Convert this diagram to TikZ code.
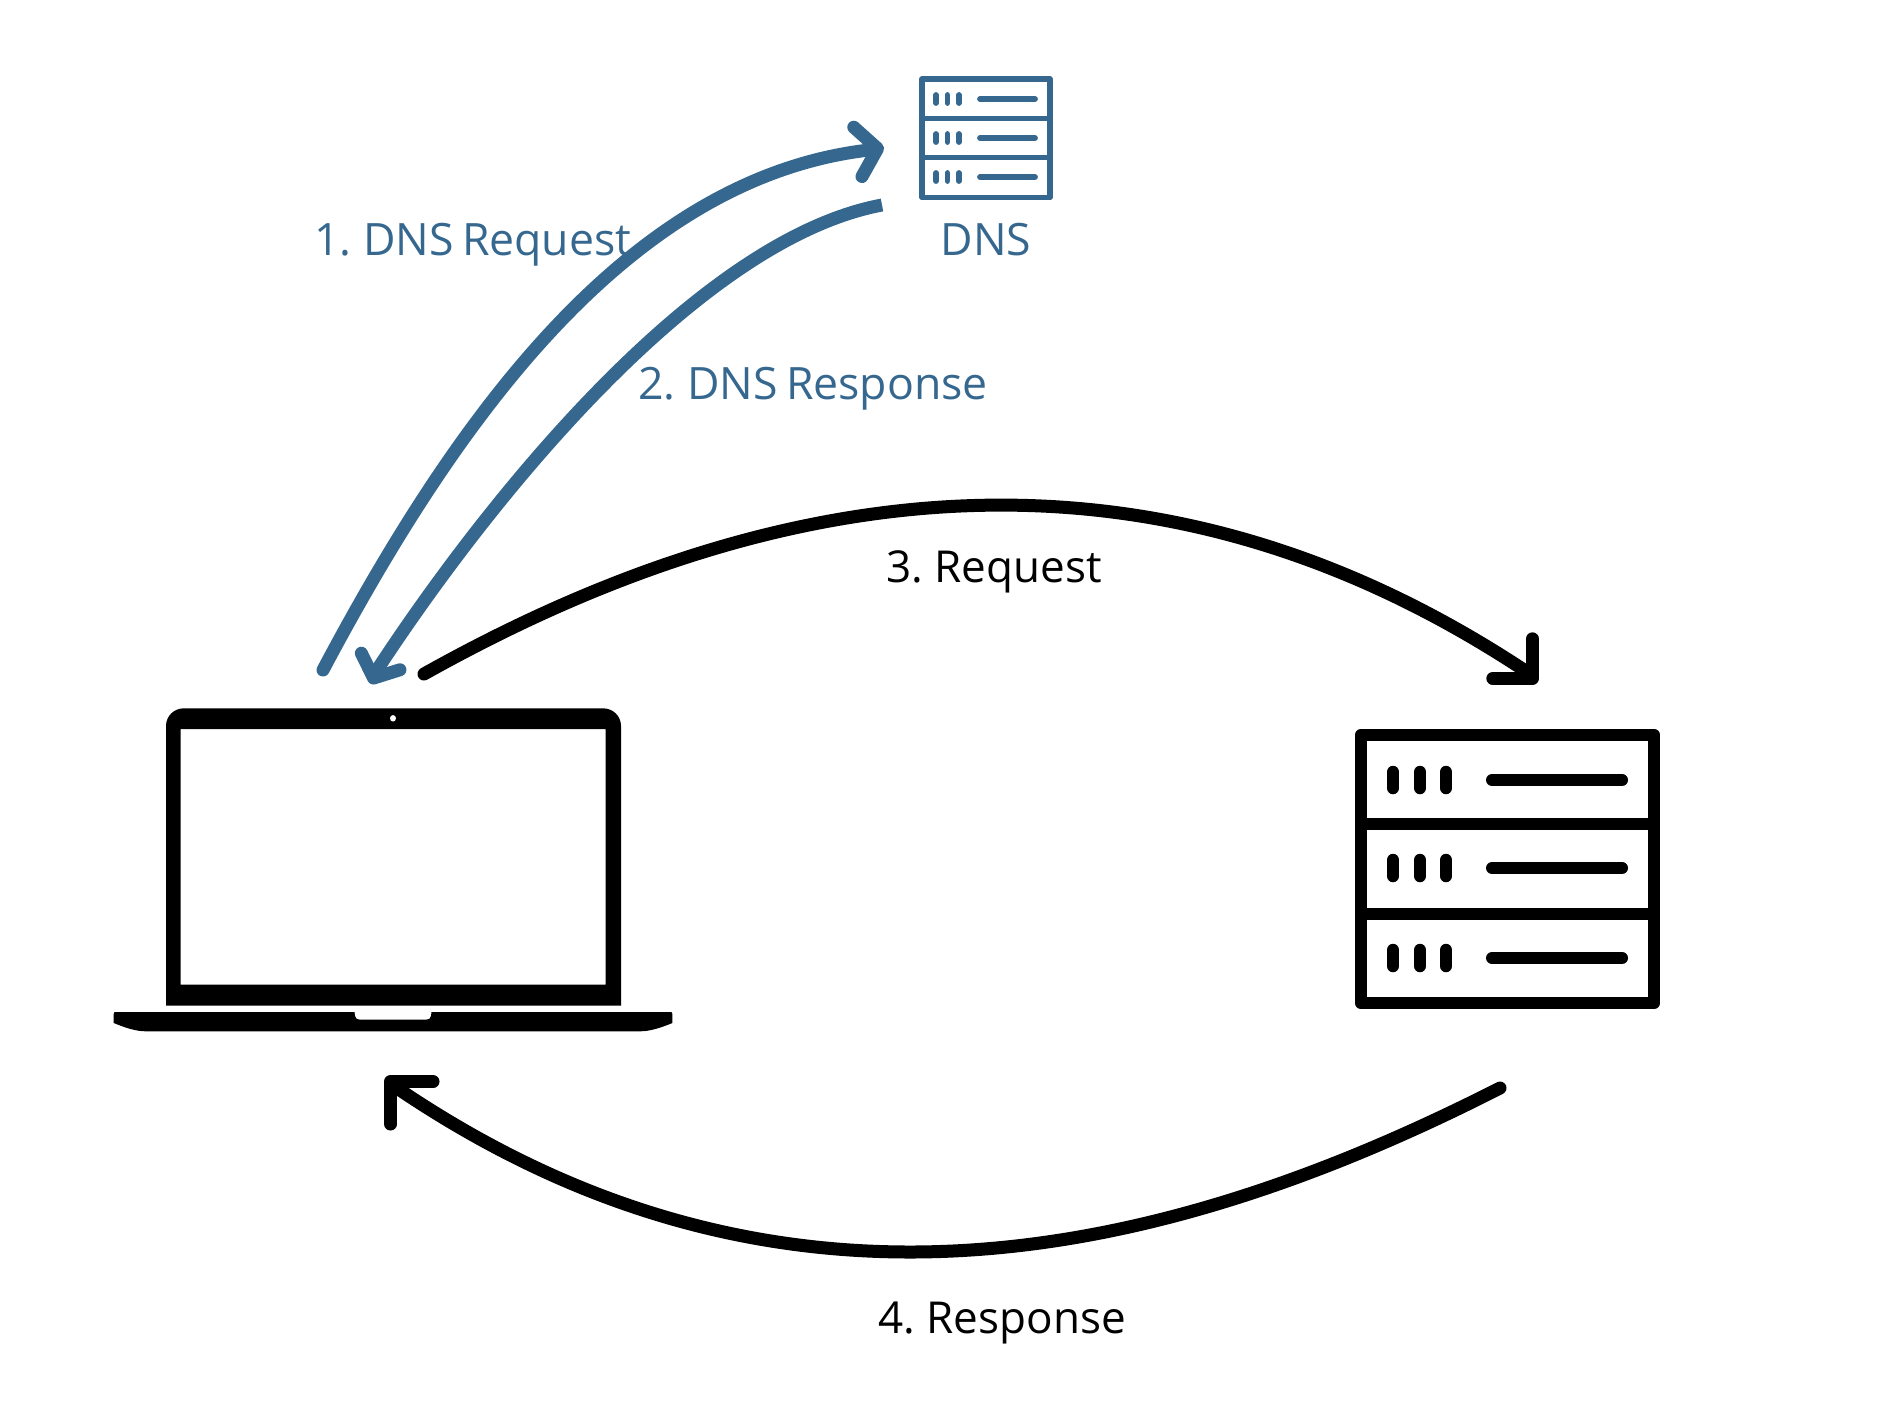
\documentclass[tikz,border=0pt]{standalone}
\usepackage{fontspec}
\setmainfont[WordSpace=0.7]{Open Sans}
\usetikzlibrary{arrows.meta,shapes.geometric}
\definecolor{dnsblue}{RGB}{54,104,143}
\tikzset{
  x=1pt,y=-1pt,
  lbl/.style={anchor=base west,inner sep=0pt,outer sep=0pt,font=\fontsize{44}{50}\selectfont},
  bluelbl/.style={lbl,text=dnsblue,font=\fontsize{44.6}{50}\selectfont},
  bigsrv/.style={draw=black,line width=12.5pt,line join=round,minimum width=293pt,minimum height=268pt,inner sep=0pt,outer sep=0pt},
  smallsrv/.style={draw=dnsblue,line width=5.4pt,line join=round,minimum width=128pt,minimum height=118.6pt,inner sep=0pt,outer sep=0pt},
  bigbar/.style={draw=black,line width=12.5pt,line cap=round},
  smallbar/.style={draw=dnsblue,line width=5.8pt,line cap=round},
  bluearc/.style={draw=dnsblue,line width=13pt,line join=round},
  blackarc/.style={draw=black,line width=13pt,line join=round},
}
\begin{document}
\begin{tikzpicture}
\useasboundingbox (0,0) rectangle (1890,1417);
% laptop
\fill[black,even odd rule]
  (166,1005.7) -- (166,726) .. controls (166,716) and (174,708.3) .. (184,708.3)
  -- (603,708.3) .. controls (613,708.3) and (621,716) .. (621,726)
  -- (621,1005.7) -- cycle
  (180.6,729) rectangle (605.5,984.7);
\node[fill=white,ellipse,minimum width=6pt,minimum height=6.5pt,inner sep=0pt] (camera) at (393,718.3) {};
\node[fill=none,inner sep=0pt,minimum width=455pt,minimum height=297pt] (laptop) at (393.5,857) {};
\fill[black]
  (113.7,1014) -- (114.5,1012) -- (354.5,1012) -- (355,1016) .. controls (355.5,1018.5) and (357,1019.7) .. (360,1019.7)
  -- (426,1019.7) .. controls (429,1019.7) and (430.5,1018.5) .. (431,1016) -- (431.5,1012)
  -- (671.5,1012) -- (672.4,1014) -- (672.4,1023)
  .. controls (660,1028) and (650,1031.3) .. (640,1031.3) -- (146,1031.3)
  .. controls (136,1031.3) and (126,1028) .. (113.7,1023) -- cycle;
% web server
\node[bigsrv] (server) at (1507.5,869) {};
\draw[black,line width=12.5pt] (1361,824) -- (1654,824) (1361,914) -- (1654,914);
\foreach \y in {780,868,958}{
  \draw[bigbar] (1393,\y-8) -- (1393,\y+8) (1420,\y-8) -- (1420,\y+8) (1446,\y-8) -- (1446,\y+8);
  \draw[bigbar,line width=12pt] (1492,\y) -- (1622,\y);
}
% dns server
\node[smallsrv] (dns) at (986,138.3) {};
\draw[dnsblue,line width=5.4pt] (922,118.3) -- (1050,118.3) (922,157.6) -- (1050,157.6);
\foreach \y in {99,138,177}{
  \draw[smallbar] (936,\y-4) -- (936,\y+4) (947.4,\y-4) -- (947.4,\y+4) (958.9,\y-4) -- (958.9,\y+4);
  \draw[smallbar] (980,\y) -- (1035,\y);
}
% labels
\node[bluelbl] (l1) at (314,255) {1. DNS Request};
\node[bluelbl] (l2) at (638,399) {2. DNS Response};
\node[bluelbl] (dnslabel) at (940.6,255) {DNS};
\node[lbl] (l3) at (886,582) {3. Request};
\node[lbl] (l4) at (878,1333) {4. Response};
% connector ends
\coordinate (a1s) at (323,670);
\coordinate (a1k) at (869,150);
\coordinate (a1e) at (884,147.5);
\coordinate (a2s) at (882,205);
\coordinate (a2k) at (377,670);
\coordinate (a2e) at (371,684);
\coordinate (a3s) at (424,674);
\coordinate (a3k) at (1524,670);
\coordinate (a3e) at (1537,683);
\coordinate (a4s) at (1500,1088);
\coordinate (a4k) at (397,1088);
\coordinate (a4e) at (386,1077);
% connectors
\draw[bluearc,line cap=round,-{Straight Barb[length=20pt,width=50pt,round]}]
  (a1s) .. controls (456,419.5) and (628,178) .. (a1k) -- (a1e);
\draw[bluearc,-{Straight Barb[length=18pt,width=42pt,round]}]
  (a2s) .. controls (695,240) and (485,505) .. (a2k) -- (a2e);
\draw[blackarc,line cap=round,-{Straight Barb[length=28pt,width=56pt,round]}]
  (a3s) .. controls (788,470) and (1160,430) .. (a3k) -- (a3e);
\draw[blackarc,line cap=round,-{Straight Barb[length=30pt,width=60pt,round]}]
  (a4s) .. controls (1136,1273.5) and (765,1337.5) .. (a4k) -- (a4e);
\end{tikzpicture}
\end{document}
